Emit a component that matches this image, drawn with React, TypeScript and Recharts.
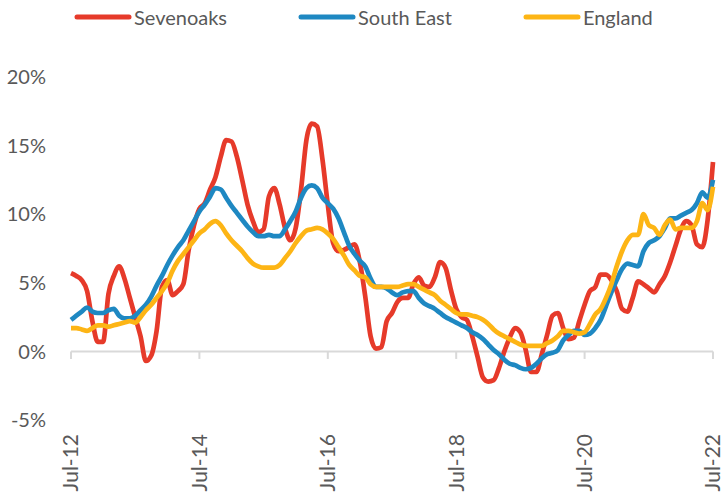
import { LineChart, Line, XAxis, YAxis, ReferenceLine, Legend } from 'recharts'

const FONT = 'Lato, "Open Sans", sans-serif'
const TEXT = '#595959'
const AXIS = '#d9d9d9'

// monthly, Jul-12 .. Jul-22
const MONTH_NAMES = ['Jan', 'Feb', 'Mar', 'Apr', 'May', 'Jun', 'Jul', 'Aug', 'Sep', 'Oct', 'Nov', 'Dec']
const MONTHS: string[] = []
for (let i = 0; i < 121; i++) {
  const m = (6 + i) % 12
  const yr = 12 + Math.floor((6 + i) / 12)
  MONTHS.push(`${MONTH_NAMES[m]}-${yr}`)
}

const X_TICKS = ['Jul-12', 'Jul-14', 'Jul-16', 'Jul-18', 'Jul-20', 'Jul-22']
const Y_TICKS = [-5, 0, 5, 10, 15, 20]

const SEVENOAKS = [
  5.7, 5.5, 5.2, 4.4, 2.2, 0.7, 0.7, 4.2, 5.5, 6.2, 5.3, 3.9, 2.5, 1.1, -0.7, -0.3, 1.5, 4.7, 5.2, 4.1, 4.4, 4.9, 7.4, 9.2, 10.4,
  10.8, 11.8, 12.7, 14.2, 15.4, 15.3, 14.2, 12.5, 10.7, 9.5, 8.7, 8.9, 11.3, 11.9, 10.7, 9.0, 8.1, 9.0, 11.8, 15.4, 16.6, 16.4, 14.0, 10.7, 7.9,
  7.3, 7.4, 7.6, 7.8, 6.5, 4.0, 1.1, 0.2, 0.3, 2.2, 2.8, 3.6, 3.9, 3.9, 4.9, 5.4, 4.8, 4.7, 5.4, 6.5, 6.1, 4.5, 3.1, 2.5,
  2.3, 1.1, -0.4, -1.9, -2.2, -2.1, -1.2, 0.0, 1.0, 1.7, 1.4, 0.1, -1.5, -1.5, -0.2, 1.2, 2.6, 2.8, 1.7, 0.9, 1.0, 2.2, 3.4, 4.4,
  4.7, 5.6, 5.6, 5.2, 4.4, 3.1, 2.9, 3.9, 5.1, 4.9, 4.6, 4.3, 4.9, 5.5, 6.5, 7.7, 8.9, 9.5, 9.2, 7.8, 7.6, 9.6, 13.8,
]

const SOUTH_EAST = [
  2.3, 2.6, 2.9, 3.2, 2.9, 2.8, 2.8, 3.0, 3.1, 2.6, 2.4, 2.4, 2.6, 3.0, 3.4, 4.0, 4.8, 5.5, 6.3, 7.0, 7.6, 8.1, 8.8, 9.5, 10.2,
  10.7, 11.3, 11.9, 11.8, 11.2, 10.6, 10.1, 9.6, 9.1, 8.7, 8.4, 8.4, 8.5, 8.4, 8.4, 8.9, 9.5, 10.2, 11.2, 11.9, 12.1, 11.9, 11.2, 10.8, 10.4,
  9.7, 8.7, 7.7, 7.1, 6.6, 6.2, 5.3, 4.7, 4.7, 4.6, 4.3, 4.1, 4.3, 4.4, 4.4, 3.9, 3.5, 3.3, 3.1, 2.8, 2.5, 2.3, 2.1, 1.9,
  1.7, 1.4, 1.2, 0.9, 0.5, 0.1, -0.2, -0.6, -0.9, -1.0, -1.2, -1.3, -1.2, -0.9, -0.5, -0.2, -0.1, 0.1, 0.8, 1.2, 1.5, 1.5, 1.2, 1.3,
  1.7, 2.3, 3.3, 4.3, 5.2, 6.0, 6.4, 6.3, 6.2, 7.3, 7.9, 8.1, 8.4, 9.0, 9.7, 9.7, 9.9, 10.1, 10.3, 10.8, 11.6, 11.2, 12.5,
]

const ENGLAND = [
  1.7, 1.7, 1.6, 1.5, 1.7, 1.9, 1.9, 1.8, 1.9, 2.0, 2.1, 2.2, 2.1, 2.5, 3.0, 3.4, 3.9, 4.4, 5.0, 5.9, 6.6, 7.1, 7.6, 8.1, 8.6,
  8.9, 9.3, 9.5, 9.2, 8.6, 8.1, 7.7, 7.3, 6.8, 6.4, 6.2, 6.1, 6.1, 6.1, 6.3, 6.8, 7.3, 7.9, 8.4, 8.8, 8.9, 9.0, 8.9, 8.6, 8.2,
  7.6, 7.0, 6.3, 5.9, 5.5, 5.4, 4.9, 4.7, 4.7, 4.7, 4.7, 4.7, 4.8, 4.9, 4.9, 4.7, 4.5, 4.3, 4.1, 3.7, 3.4, 3.1, 2.8, 2.7,
  2.7, 2.6, 2.5, 2.3, 2.0, 1.6, 1.3, 1.1, 0.9, 0.7, 0.5, 0.4, 0.4, 0.4, 0.4, 0.6, 0.8, 1.1, 1.5, 1.5, 1.4, 1.3, 1.4, 2.0,
  2.7, 3.1, 3.9, 4.9, 6.2, 7.3, 8.1, 8.5, 8.5, 10.0, 9.2, 9.0, 8.5, 9.2, 9.6, 8.9, 9.0, 9.0, 9.0, 9.5, 10.8, 10.3, 12.0,
]

const SERIES = [
  { key: 'sevenoaks', name: 'Sevenoaks', color: '#e63a2a' },
  { key: 'southEast', name: 'South East', color: '#1e88c2' },
  { key: 'england', name: 'England', color: '#fdb515' },
]

const data = MONTHS.map((month, i) => ({
  month,
  sevenoaks: SEVENOAKS[i],
  southEast: SOUTH_EAST[i],
  england: ENGLAND[i],
}))

// eslint-disable-next-line @typescript-eslint/no-explicit-any
function RotatedTick({ x, y, payload }: any) {
  return (
    <text
      x={x}
      y={y}
      transform={`rotate(-90 ${x} ${y})`}
      textAnchor="end"
      dy="0.35em"
      fill={TEXT}
      fontSize={21}
      fontFamily={FONT}
    >
      {payload.value}
    </text>
  )
}

function LegendRow() {
  return (
    <div
      style={{
        display: 'flex',
        alignItems: 'center',
        paddingLeft: 74,
        height: 34,
        fontFamily: FONT,
        fontSize: 20,
        color: TEXT,
        whiteSpace: 'nowrap',
      }}
    >
      {SERIES.map((s) => (
        <div key={s.key} style={{ display: 'flex', alignItems: 'center', flex: 'none', marginRight: 71 }}>
          <svg width={58} height={8}>
            <line x1={3} y1={4} x2={55} y2={4} stroke={s.color} strokeWidth={5} strokeLinecap="round" />
          </svg>
          <span style={{ marginLeft: 2 }}>{s.name}</span>
        </div>
      ))}
    </div>
  )
}

export default function App() {
  return (
    <div style={{ position: 'absolute', left: 0, top: 0, width: 723, height: 497, background: '#fff' }}>
      <LineChart width={723} height={497} data={data} margin={{ top: 77, right: 10, bottom: 0, left: 0 }}>
        <XAxis
          dataKey="month"
          scale="point"
          ticks={X_TICKS}
          interval={0}
          axisLine={false}
          tickLine={false}
          tickSize={0}
          tickMargin={14}
          height={77}
          tick={<RotatedTick />}
        />
        <YAxis
          domain={[-5, 20]}
          ticks={Y_TICKS}
          tickFormatter={(v) => `${v}%`}
          axisLine={false}
          tickLine={false}
          tickSize={0}
          tickMargin={25}
          width={71}
          tick={{ fill: TEXT, fontSize: 20, fontFamily: FONT }}
        />
        <Legend
          layout="horizontal"
          verticalAlign="middle"
          align="center"
          wrapperStyle={{ top: 0, left: 0, width: 723 }}
          content={() => <LegendRow />}
        />

        {/* axis line at 0% with its tick marks */}
        <ReferenceLine y={0} stroke={AXIS} strokeWidth={2} />
        {X_TICKS.map((t) => (
          <ReferenceLine
            key={t}
            segment={[
              { x: t, y: 0 },
              { x: t, y: -0.55 },
            ]}
            stroke={AXIS}
            strokeWidth={2}
          />
        ))}

        {SERIES.map((s) => (
          <Line
            key={s.key}
            type="monotone"
            dataKey={s.key}
            name={s.name}
            stroke={s.color}
            strokeWidth={4.7}
            strokeLinejoin="round"
            dot={false}
            activeDot={false}
            isAnimationActive={false}
          />
        ))}
      </LineChart>
    </div>
  )
}
